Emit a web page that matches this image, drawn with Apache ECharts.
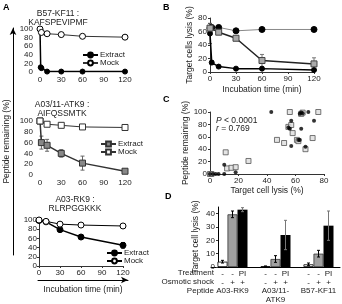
<!DOCTYPE html>
<html><head><meta charset="utf-8">
<script src="https://cdn.jsdelivr.net/npm/echarts@6/dist/echarts.min.js"></script>
<style>html,body{margin:0;padding:0;background:#fff}#c{width:342px;height:304px}</style>
</head><body><div id="c"></div>
<script>
// ---------- Panel A1: B57-KF11 ----------
const a1ExtractT = [0, 1, 2, 10, 30, 60, 120];
const a1ExtractV = [100, 11, 9, 1, 1, 1, 1];
const a1MockT = [0, 2, 10, 30, 60, 120];
const a1MockV = [100, 92, 89, 87, 83, 81];
// ---------- Panel A2: A03/11-ATK9 ----------
const a2ExtractT = [0, 2, 10, 30, 60, 120];
const a2ExtractV = [100, 60, 55, 40, 22, 7];
const a2ExtractErr = [0, 12, 11, 7, 13, 3];
const a2MockT = [0, 10, 30, 60, 120];
const a2MockV = [100, 94, 92, 89, 88];
// ---------- Panel A3: A03-RK9 ----------
const a3T = [0, 10, 30, 60, 120];
const a3ExtractV = [99, 96, 79, 63, 45];
const a3ExtractErr = [1, 1, 2, 2, 6];
const a3MockV = [100, 97, 91, 89, 87];
// ---------- Panel B ----------
const bT = [0, 2, 10, 30, 60, 120];
const bMockV = [65, 66, 66, 61, 63, 63];
const bSquareT = [0, 10, 30, 60, 120];
const bSquareV = [65, 59, 50, 17, 12];
const bSquareErr = [7, 2, 2, 9, 9];
const bExtractV = [57, 14, 8, 5, 5, 3];
const bExtractErr = [15, 3, 1, 1, 1, 1];
// ---------- Panel C ----------
const cDotX = [43, 69, 63, 64, 65, 73, 57, 55, 56, 64, 57, 67, 62, 63, 10, 18, 0, 2, 4, 6, 10];
const cDotY = [100, 100, 97, 99, 98, 86, 86, 75, 73, 73, 45, 44, 55, 55, 15, 3, 0, 0, 0, 0, 0];
const cSqX = [56, 76, 64, 65, 55, 57, 58, 47, 52, 61, 62, 72, 67, 11, 12, 15, 18, 27, 0, 1];
const cSqY = [100, 100, 97, 99, 76, 79, 66, 55, 50, 55, 53, 58, 40, 35, 9, 10, 11, 21, 0, 0];
// ---------- Panel D ----------
const dPeptides = ['A03-RK9', 'A03/11-\nATK9', 'B57-KF11'];
const dNone = [4, 0.5, 2];
const dNoneErr = [1, 0.3, 1];
const dShock = [39.5, 6, 10];
const dShockErr = [2.5, 2.5, 2.5];
const dShockPI = [43, 24, 31];
const dShockPIErr = [1.5, 11, 11];
const dRow1 = ['-', '-', 'PI'];
const dRow2 = ['-', '+', '+'];

const FONT = "'Liberation Sans', Arial, sans-serif";
const TXT = '#222';
const zip = (xs, ys) => xs.map((x, i) => [x, ys[i]]);
const errs = (xs, ys, es) => xs.map((x, i) => [x, ys[i] - es[i], ys[i] + es[i]]);

function errRender(offsetPx, color, cap) {
  return function (params, api) {
    const x = api.value(0);
    const lo = api.coord([x, api.value(1)]);
    const hi = api.coord([x, api.value(2)]);
    const cx = lo[0] + offsetPx;
    const st = { stroke: color, lineWidth: 1 };
    return { type: 'group', children: [
      { type: 'line', shape: { x1: cx, y1: lo[1], x2: cx, y2: hi[1] }, style: st },
      { type: 'line', shape: { x1: cx - cap, y1: hi[1], x2: cx + cap, y2: hi[1] }, style: st },
      { type: 'line', shape: { x1: cx - cap, y1: lo[1], x2: cx + cap, y2: lo[1] }, style: st }
    ] };
  };
}
function errSeries(idx, data, color, cap, off) {
  return { type: 'custom', xAxisIndex: idx, yAxisIndex: idx, data: data, z: 1,
    encode: { x: 0, y: [1, 2] }, renderItem: errRender(off || 0, color, cap), silent: true };
}

const lbl = (m) => ({ fontSize: 8, lineHeight: 8, color: TXT, fontFamily: FONT, margin: m, hideOverlap: false });
function valX(grid, max, interval, showLine, m) {
  return { type: 'value', gridIndex: grid, min: 0, max: max, interval: interval,
    axisLine: { show: showLine, lineStyle: { color: '#333', width: 1 } },
    axisTick: { show: showLine, length: 2, lineStyle: { color: '#333' } },
    splitLine: { show: false }, axisLabel: lbl(m) };
}
function valY(grid, max, interval, showLine, m) {
  return { type: 'value', gridIndex: grid, min: 0, max: max, interval: interval,
    axisLine: { show: showLine, lineStyle: { color: '#333', width: 1 } },
    axisTick: { show: showLine, length: 2, lineStyle: { color: '#333' } },
    splitLine: { show: false }, axisLabel: lbl(m) };
}

const legendBase = {
  orient: 'vertical', itemWidth: 15, itemHeight: 6, itemGap: 0, padding: 0,
  textStyle: { fontSize: 8, color: TXT, fontFamily: FONT, padding: [0, 0, 0, -3] },
  formatter: (n) => n.split('|')[0], selectedMode: false
};

const circle = (fill) => ({ color: fill, borderColor: '#000', borderWidth: 1 });
const ctext = (x, y, t) => ({ type: 'text', x: x, y: y, style: { text: t, font: '8.5px ' + FONT, fill: TXT,
  align: 'center', verticalAlign: 'middle', textAlign: 'center', textVerticalAlign: 'middle' } });
const rtext = (x, y, t) => ({ type: 'text', x: x, y: y, style: { text: t, font: '8px ' + FONT, fill: TXT,
  align: 'right', verticalAlign: 'middle', textAlign: 'right', textVerticalAlign: 'middle' } });

const option = {
  animation: false,
  textStyle: { fontFamily: FONT },
  grid: [
    { left: 40, top: 29, width: 85, height: 43 },
    { left: 40, top: 121, width: 85, height: 54 },
    { left: 39, top: 220, width: 84, height: 46 },
    { left: 210, top: 18, width: 104, height: 54 },
    { left: 210, top: 112, width: 114, height: 62 },
    { left: 211, top: 207, width: 129, height: 60 },
    { left: 13, top: 28, width: 10, height: 227 },
    { left: 38, top: 270, width: 90, height: 10 }
  ],
  xAxis: [
    valX(0, 120, 30, false, 4),
    valX(1, 120, 30, false, 4),
    valX(2, 120, 30, true, 3),
    Object.assign(valX(3, 120, 30, true, 3), { name: 'Incubation time (min)', nameLocation: 'middle', nameGap: 13,
      nameTextStyle: { fontSize: 8.5, color: TXT, fontFamily: FONT } }),
    Object.assign(valX(4, 80, 20, true, 3), { name: 'Target cell lysis (%)', nameLocation: 'middle', nameGap: 11,
      nameTextStyle: { fontSize: 8.5, color: TXT, fontFamily: FONT } }),
    { type: 'category', gridIndex: 5, data: dPeptides,
      axisLine: { show: true, lineStyle: { color: '#000' } }, axisTick: { show: false },
      axisLabel: { interval: 0, hideOverlap: false, fontSize: 8, color: TXT, fontFamily: FONT, margin: 19, lineHeight: 9 } },
    { type: 'value', gridIndex: 6, show: false, min: 0, max: 1 },
    { type: 'value', gridIndex: 7, min: 0, max: 1, position: 'bottom',
      axisLine: { show: true, symbol: ['none', 'arrow'], symbolSize: [5, 7], lineStyle: { color: '#000', width: 1 } },
      axisTick: { show: false }, axisLabel: { show: false }, splitLine: { show: false },
      name: 'Incubation time (min)', nameLocation: 'middle', nameGap: 5,
      nameTextStyle: { fontSize: 8.5, color: TXT, fontFamily: FONT } }
  ],
  yAxis: [
    valY(0, 100, 20, false, 7),
    valY(1, 100, 20, false, 7),
    valY(2, 100, 20, true, 2),
    Object.assign(valY(3, 80, 20, true, 3), { name: 'Target cells lysis (%)', nameLocation: 'middle', nameGap: 16,
      nameTextStyle: { fontSize: 8.5, color: TXT, fontFamily: FONT } }),
    Object.assign(valY(4, 100, 20, true, 3), { name: 'Peptide remaining (%)', nameLocation: 'middle', nameGap: 18,
      nameTextStyle: { fontSize: 8.5, color: TXT, fontFamily: FONT } }),
    Object.assign(valY(5, 45, 10, true, 3), { offset: -7, axisLine: { show: true, lineStyle: { color: '#000' } },
      name: 'Target cell lysis (%)', nameLocation: 'middle', nameGap: 18,
      nameTextStyle: { fontSize: 8.5, color: TXT, fontFamily: FONT } }),
    { type: 'value', gridIndex: 6, min: 0, max: 1,
      axisLine: { show: true, symbol: ['none', 'arrow'], symbolSize: [5, 7], lineStyle: { color: '#000', width: 1 } },
      axisTick: { show: false }, axisLabel: { show: false }, splitLine: { show: false },
      name: 'Peptide remaining (%)', nameLocation: 'middle', nameGap: 2,
      nameTextStyle: { fontSize: 8.5, color: TXT, fontFamily: FONT } },
    { type: 'value', gridIndex: 7, show: false, min: 0, max: 1 }
  ],
  legend: [
    Object.assign({ left: 82, top: 51, data: ['Extract|1', 'Mock|1'] }, legendBase),
    Object.assign({ left: 100, top: 140, data: ['Extract|2', 'Mock|2'] }, legendBase),
    Object.assign({ left: 106, top: 249, data: ['Extract|3', 'Mock|3'] }, legendBase)
  ],
  graphic: [
    { type: 'text', left: 3, top: 3, style: { text: 'A', font: 'bold 9px ' + FONT, fill: '#000' } },
    { type: 'text', left: 163, top: 3, style: { text: 'B', font: 'bold 9px ' + FONT, fill: '#000' } },
    { type: 'text', left: 163, top: 95, style: { text: 'C', font: 'bold 9px ' + FONT, fill: '#000' } },
    { type: 'text', left: 165, top: 192, style: { text: 'D', font: 'bold 9px ' + FONT, fill: '#000' } },
    ctext(58, 14, 'B57-KF11 :'),
    ctext(58, 23, 'KAFSPEVIPMF'),
    ctext(62, 105, 'A03/11-ATK9 :'),
    ctext(62, 114, 'AIFQSSMTK'),
    ctext(75, 200, 'A03-RK9 :'),
    ctext(75, 209, 'RLRPGGKKK'),
    { type: 'text', x: 216, y: 121, style: { text: '{i|P} < 0.0001', font: '8.5px ' + FONT, fill: TXT, verticalAlign: 'middle', textVerticalAlign: 'middle', rich: { i: { fontStyle: 'italic', fontSize: 8.5, fontFamily: FONT, fill: TXT } } } },
    { type: 'text', x: 216, y: 129, style: { text: '{i|r} = 0.769', font: '8.5px ' + FONT, fill: TXT, verticalAlign: 'middle', textVerticalAlign: 'middle', rich: { i: { fontStyle: 'italic', fontSize: 8.5, fontFamily: FONT, fill: TXT } } } },
    rtext(214, 273, 'Treatment'),
    rtext(214, 282, 'Osmotic shock'),
    rtext(214, 291, 'Peptide')
  ],
  series: [
    // A1
    { name: 'Extract|1', type: 'line', xAxisIndex: 0, yAxisIndex: 0, data: zip(a1ExtractT, a1ExtractV),
      symbol: 'circle', symbolSize: 5, lineStyle: { color: '#000', width: 1.5 }, itemStyle: circle('#000'), z: 3 },
    { name: 'Mock|1', type: 'line', xAxisIndex: 0, yAxisIndex: 0, data: zip(a1MockT, a1MockV),
      symbol: 'circle', symbolSize: 6, lineStyle: { color: '#333', width: 1 }, itemStyle: circle('#fff'), z: 4 },
    // A2
    errSeries(1, errs(a2ExtractT, a2ExtractV, a2ExtractErr), '#666', 2),
    { name: 'Extract|2', type: 'line', xAxisIndex: 1, yAxisIndex: 1, data: zip(a2ExtractT, a2ExtractV),
      symbol: 'rect', symbolSize: 6, lineStyle: { color: '#333', width: 1.5 },
      itemStyle: { color: '#888', borderColor: '#333', borderWidth: 1 }, z: 3 },
    { name: 'Mock|2', type: 'line', xAxisIndex: 1, yAxisIndex: 1, data: zip(a2MockT, a2MockV),
      symbol: 'rect', symbolSize: 6, lineStyle: { color: '#333', width: 1 },
      itemStyle: { color: '#fff', borderColor: '#333', borderWidth: 1 }, z: 4 },
    // A3
    errSeries(2, errs(a3T, a3ExtractV, a3ExtractErr), '#000', 2),
    { name: 'Extract|3', type: 'line', xAxisIndex: 2, yAxisIndex: 2, data: zip(a3T, a3ExtractV),
      symbol: 'circle', symbolSize: 6, lineStyle: { color: '#000', width: 1.5 }, itemStyle: circle('#000'), z: 3 },
    { name: 'Mock|3', type: 'line', xAxisIndex: 2, yAxisIndex: 2, data: zip(a3T, a3MockV),
      symbol: 'circle', symbolSize: 6, lineStyle: { color: '#000', width: 1 }, itemStyle: circle('#fff'), z: 4 },
    // B
    errSeries(3, errs(bSquareT, bSquareV, bSquareErr), '#777', 2),
    errSeries(3, errs(bT, bExtractV, bExtractErr), '#555', 2),
    { name: 'bMock', type: 'line', xAxisIndex: 3, yAxisIndex: 3, data: zip(bT, bMockV),
      symbol: 'circle', symbolSize: 6, lineStyle: { color: '#888', width: 1 }, itemStyle: circle('#000'), z: 3 },
    { name: 'bSquare', type: 'line', xAxisIndex: 3, yAxisIndex: 3, data: zip(bSquareT, bSquareV),
      symbol: 'rect', symbolSize: 6, lineStyle: { color: '#222', width: 1.5 },
      itemStyle: { color: '#aaa', borderColor: '#444', borderWidth: 1 }, z: 4 },
    { name: 'bExtract', type: 'line', xAxisIndex: 3, yAxisIndex: 3, data: zip(bT, bExtractV),
      symbol: 'circle', symbolSize: 5, lineStyle: { color: '#000', width: 1.5 }, itemStyle: circle('#000'), z: 3 },
    // C
    { name: 'cSq', type: 'scatter', xAxisIndex: 4, yAxisIndex: 4, data: zip(cSqX, cSqY),
      symbol: 'rect', symbolSize: 5, itemStyle: { color: '#ddd', borderColor: '#555', borderWidth: 1 }, z: 3 },
    { name: 'cDot', type: 'scatter', xAxisIndex: 4, yAxisIndex: 4, data: zip(cDotX, cDotY),
      symbol: 'circle', symbolSize: 4, itemStyle: { color: '#000' }, z: 4 },
    // D
    { name: 'dNone', type: 'bar', xAxisIndex: 5, yAxisIndex: 5, data: dNone, barWidth: 10, barGap: '0%',
      itemStyle: { color: '#fff', borderColor: '#000', borderWidth: 0.8 },
      label: { show: true, position: 'bottom', distance: 2, lineHeight: 9, fontSize: 8, color: TXT, fontFamily: FONT,
        formatter: () => dRow1[0] + '\n' + dRow2[0] } },
    { name: 'dShock', type: 'bar', xAxisIndex: 5, yAxisIndex: 5, data: dShock, barWidth: 10, barGap: '0%',
      itemStyle: { color: '#a0a0a0', borderColor: '#333', borderWidth: 0.8 },
      label: { show: true, position: 'bottom', distance: 2, lineHeight: 9, fontSize: 8, color: TXT, fontFamily: FONT,
        formatter: () => dRow1[1] + '\n' + dRow2[1] } },
    { name: 'dShockPI', type: 'bar', xAxisIndex: 5, yAxisIndex: 5, data: dShockPI, barWidth: 10, barGap: '0%',
      itemStyle: { color: '#000' },
      label: { show: true, position: 'bottom', distance: 2, lineHeight: 9, fontSize: 8, color: TXT, fontFamily: FONT,
        formatter: () => dRow1[2] + '\n' + dRow2[2] } },
    Object.assign(errSeries(5, dNone.map((v, i) => [i, v - dNoneErr[i], v + dNoneErr[i]]), '#000', 1.5, -10), { z: 5 }),
    Object.assign(errSeries(5, dShock.map((v, i) => [i, v - dShockErr[i], v + dShockErr[i]]), '#000', 1.5, 0), { z: 5 }),
    Object.assign(errSeries(5, dShockPI.map((v, i) => [i, v - dShockPIErr[i], v + dShockPIErr[i]]), '#777', 1.5, 10), { z: 5 })
  ]
};
const chart = echarts.init(document.getElementById('c'), null, { renderer: 'canvas' });
chart.setOption(option);
</script>
</body></html>
